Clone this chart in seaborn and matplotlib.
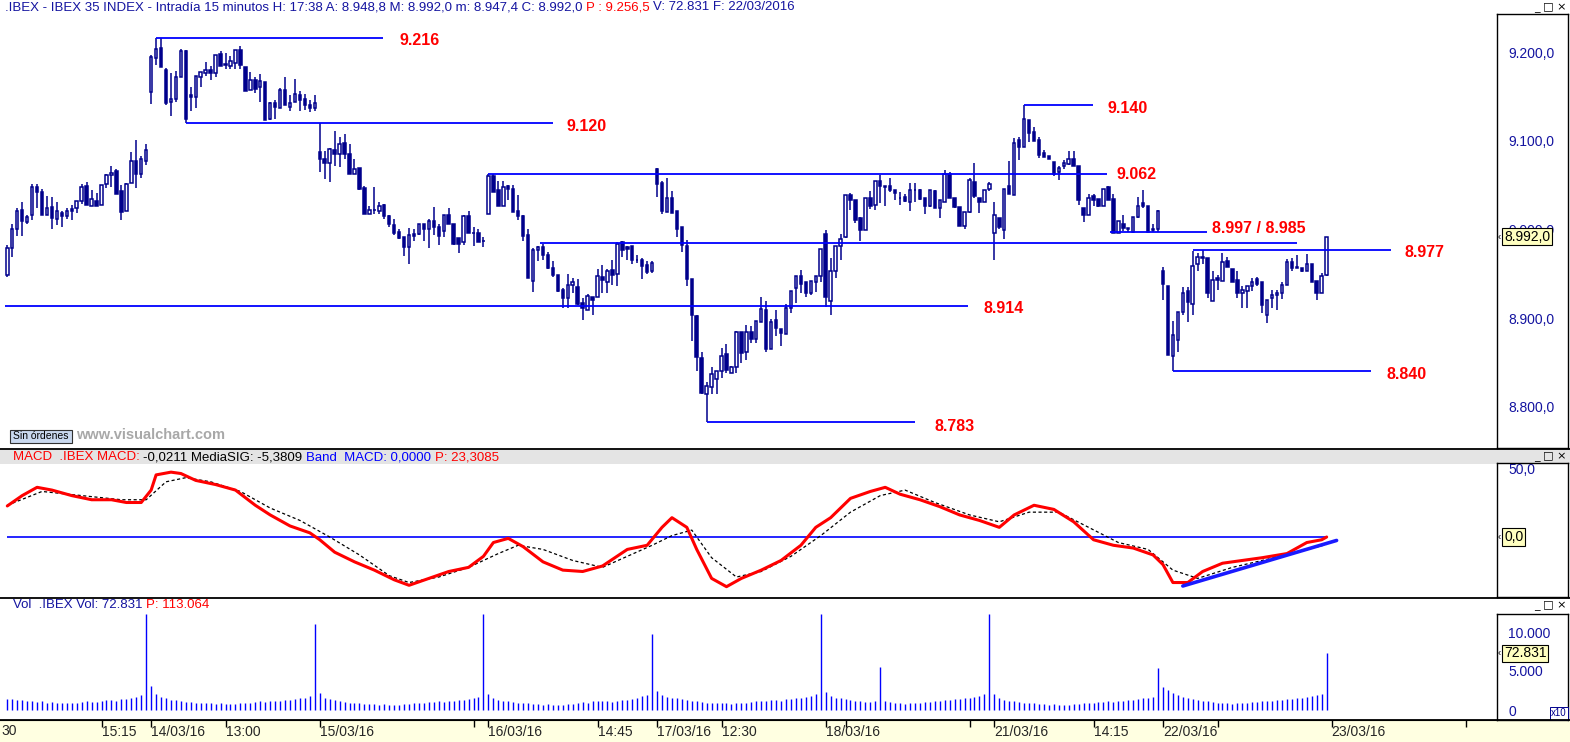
import numpy as np
import matplotlib
matplotlib.use("Agg")
import matplotlib.pyplot as plt
import matplotlib.transforms as mtrans
from matplotlib.lines import Line2D
from matplotlib.patches import Rectangle
from matplotlib.ticker import FixedLocator, FuncFormatter
import seaborn as sns

# ---------------- data (IBEX 35, 15 min bars, 11/03 -> 22/03/2016) ----------------
opens = [
    8949, 8979, 9001, 9022, 9009, 9016, 9048, 9042, 9016, 9025, 9012, 9019, 9015, 9023, 9024,
    9032, 9049, 9027, 9032, 9028, 9051, 9061, 9066, 9043, 9021, 9052, 9077, 9063, 9077,
    9155, 9193, 9205, 9180, 9144, 9147, 9172, 9201, 9152, 9149, 9172, 9176, 9180, 9176, 9198, 9185, 9184, 9188,
    9202, 9183, 9157, 9169, 9161, 9166, 9124, 9143, 9137, 9157, 9138, 9144, 9152, 9147, 9140, 9137,
    9087, 9079, 9075, 9090, 9085, 9097, 9085, 9063, 9069, 9047, 9018, 9022, 9021, 9028, 9015, 9005, 8997,
    8992, 8980, 8995, 8995, 9006, 9000, 9010, 9003, 8998, 9016, 9006, 8990, 8986, 9015, 8996, 8996, 8987,
    9017, 9060, 9044, 9026, 9049, 9046, 9021, 9015, 8994, 8942, 8977, 8980, 8971, 8957, 8949, 8932, 8923,
    8938, 8935, 8917, 8909, 8924, 8924, 8946, 8941, 8954, 8950, 8986, 8980, 8981, 8966, 8966, 8960, 8953,
    9068, 9052, 9020, 9035, 9021, 9003, 8981, 8944, 8902, 8855, 8815, 8823, 8832, 8840, 8860, 8838, 8845,
    8884, 8862, 8884, 8877, 8896, 8909, 8865, 8898, 8888, 8882, 8911, 8934, 8948, 8941, 8928, 8941, 8948,
    8995, 8919, 8953, 8981, 8992, 9039, 9033, 9013, 8999, 9036, 9028, 9055, 9049, 9049, 9045, 9036, 9037,
    9031, 9044, 9045, 9035, 9026, 9043, 9024, 9031, 9062, 9036, 9025, 9004, 9020, 9054, 9036, 9031, 9046,
    8996, 9013, 8999, 9049, 9039, 9101, 9093, 9123, 9110, 9101, 9086, 9083, 9076, 9065, 9071, 9074, 9080,
    9072, 9024, 9016, 9038, 9034, 9026, 9048, 9034, 8996, 9006, 9002, 8997, 9014, 9030, 9027, 9000, 9000,
    8953, 8936, 8858, 8876, 8907, 8931, 8916, 8961, 8969, 8968, 8919, 8945, 8942, 8965, 8956, 8943, 8929,
    8931, 8936, 8944, 8941, 8904, 8923, 8926, 8928, 8938, 8963, 8958, 8957, 8953, 8961, 8942, 8928, 8948.8,
]
highs = [
    8983, 9006, 9024, 9031, 9016, 9051, 9051, 9046, 9038, 9037, 9031, 9021, 9024, 9028, 9032,
    9051, 9054, 9045, 9041, 9050, 9063, 9071, 9068, 9050, 9052, 9087, 9101, 9083, 9096,
    9197, 9216, 9216, 9182, 9176, 9179, 9203, 9202, 9161, 9173, 9177, 9189, 9184, 9197, 9201, 9199, 9195, 9202,
    9207, 9183, 9177, 9172, 9175, 9166, 9144, 9146, 9159, 9172, 9152, 9170, 9156, 9153, 9146, 9151,
    9120, 9088, 9092, 9111, 9104, 9108, 9096, 9080, 9069, 9049, 9027, 9048, 9031, 9029, 9016, 9012, 9001,
    8992, 9002, 9001, 9006, 9006, 9012, 9025, 9006, 9016, 9024, 9006, 8990, 9016, 9021, 9003, 9001, 8992,
    9062, 9063, 9055, 9055, 9050, 9050, 9039, 9016, 9001, 8979, 8981, 8984, 8975, 8965, 8949, 8934, 8950,
    8945, 8944, 8923, 8927, 8924, 8956, 8960, 8956, 8966, 8986, 8987, 8981, 8981, 8971, 8968, 8964, 8965,
    9069, 9055, 9058, 9043, 9021, 9003, 8988, 8944, 8904, 8862, 8828, 8845, 8841, 8867, 8871, 8846, 8886,
    8884, 8892, 8891, 8897, 8924, 8919, 8899, 8909, 8888, 8916, 8931, 8948, 8954, 8941, 8942, 8948, 8978,
    8999, 8968, 8981, 8995, 9039, 9041, 9033, 9014, 9036, 9043, 9055, 9061, 9049, 9058, 9045, 9042, 9040,
    9052, 9052, 9046, 9035, 9045, 9045, 9033, 9067, 9065, 9036, 9025, 9020, 9058, 9075, 9036, 9045, 9053,
    9031, 9013, 9046, 9077, 9103, 9104, 9140, 9123, 9115, 9104, 9090, 9083, 9076, 9071, 9078, 9088, 9088,
    9072, 9024, 9040, 9040, 9034, 9046, 9049, 9040, 9010, 9016, 9002, 9014, 9037, 9045, 9027, 9006, 9022,
    8958, 8936, 8897, 8907, 8935, 8935, 8976, 8973, 8977, 8968, 8953, 8949, 8973, 8969, 8956, 8953, 8936,
    8936, 8945, 8947, 8941, 8921, 8932, 8932, 8941, 8967, 8968, 8971, 8957, 8972, 8961, 8942, 8951, 8992,
]
lows = [
    8946, 8969, 8993, 8993, 9006, 9011, 9024, 9016, 9016, 9001, 9005, 9003, 9012, 9011, 9019,
    9029, 9028, 9027, 9027, 9028, 9047, 9048, 9040, 9011, 9021, 9052, 9047, 9058, 9073,
    9141, 9185, 9183, 9140, 9128, 9144, 9172, 9120, 9134, 9137, 9161, 9173, 9169, 9172, 9184, 9181, 9181, 9181,
    9181, 9156, 9157, 9154, 9144, 9123, 9123, 9125, 9137, 9140, 9133, 9144, 9134, 9135, 9132, 9134,
    9065, 9057, 9053, 9071, 9070, 9080, 9063, 9063, 9045, 9017, 9017, 9017, 9018, 9012, 9003, 8994, 8989,
    8970, 8961, 8987, 8994, 8987, 8979, 8994, 8983, 8991, 9006, 8983, 8974, 8983, 8996, 8981, 8986, 8980,
    9017, 9042, 9026, 9026, 9033, 9020, 9011, 8987, 8945, 8930, 8965, 8966, 8956, 8947, 8930, 8912, 8912,
    8928, 8915, 8898, 8909, 8904, 8924, 8928, 8928, 8937, 8936, 8969, 8966, 8961, 8962, 8944, 8950, 8951,
    9037, 9018, 9020, 9019, 8991, 8975, 8936, 8874, 8840, 8815, 8783, 8815, 8815, 8833, 8838, 8838, 8838,
    8850, 8853, 8872, 8872, 8896, 8862, 8865, 8880, 8869, 8882, 8906, 8917, 8929, 8924, 8926, 8930, 8941,
    8913, 8904, 8945, 8966, 8990, 9022, 9007, 8987, 8999, 9023, 9022, 9030, 9027, 9042, 9033, 9028, 9031,
    9021, 9031, 9033, 9017, 9025, 9024, 9013, 9031, 9035, 9024, 9004, 9001, 9019, 9036, 9019, 9031, 9043,
    8966, 9001, 8989, 9040, 9039, 9078, 9093, 9099, 9100, 9081, 9082, 9079, 9060, 9056, 9068, 9073, 9071,
    9028, 9009, 9016, 9026, 9025, 9026, 9033, 8996, 8996, 8998, 8997, 8996, 9013, 9024, 8997, 8997, 8997,
    8921, 8859, 8840, 8862, 8904, 8896, 8904, 8953, 8961, 8923, 8919, 8932, 8942, 8958, 8941, 8923, 8912,
    8912, 8931, 8936, 8906, 8895, 8912, 8909, 8922, 8938, 8953, 8957, 8952, 8953, 8941, 8921, 8928, 8947.4,
]
closes = [
    8979, 9001, 9021, 9010, 9014, 9048, 9042, 9016, 9024, 9013, 9021, 9015, 9021, 9021, 9032,
    9048, 9028, 9034, 9027, 9050, 9061, 9064, 9040, 9020, 9051, 9077, 9062, 9079, 9090,
    9194, 9203, 9183, 9143, 9147, 9172, 9201, 9124, 9149, 9173, 9177, 9180, 9176, 9197, 9184, 9186, 9190, 9202,
    9185, 9156, 9169, 9158, 9167, 9123, 9142, 9138, 9157, 9140, 9142, 9153, 9146, 9140, 9137, 9143,
    9080, 9075, 9091, 9085, 9096, 9085, 9063, 9068, 9046, 9018, 9022, 9022, 9027, 9015, 9006, 8996, 8990,
    8980, 8994, 8993, 9006, 9000, 9010, 9003, 8993, 9016, 9006, 8984, 8984, 9015, 8996, 8996, 8986, 8987,
    9060, 9042, 9026, 9048, 9046, 9020, 9015, 8993, 8945, 8977, 8980, 8971, 8957, 8949, 8931, 8923, 8938,
    8941, 8916, 8911, 8925, 8920, 8948, 8943, 8953, 8949, 8984, 8977, 8978, 8966, 8966, 8959, 8952, 8962,
    9051, 9021, 9036, 9019, 9001, 8982, 8944, 8904, 8856, 8816, 8824, 8837, 8841, 8858, 8842, 8845, 8884,
    8861, 8884, 8877, 8897, 8910, 8865, 8896, 8889, 8883, 8911, 8931, 8948, 8939, 8928, 8942, 8948, 8978,
    8924, 8953, 8981, 8989, 9039, 9033, 9011, 8999, 9036, 9027, 9055, 9049, 9048, 9044, 9041, 9035, 9032,
    9044, 9045, 9034, 9026, 9044, 9024, 9033, 9063, 9036, 9025, 9004, 9020, 9056, 9038, 9031, 9045, 9051,
    9016, 9003, 9046, 9040, 9098, 9093, 9124, 9109, 9100, 9084, 9082, 9080, 9063, 9069, 9075, 9080, 9071,
    9033, 9016, 9035, 9033, 9026, 9046, 9033, 8996, 9010, 9002, 9000, 9014, 9027, 9026, 8997, 8999, 9021,
    8939, 8859, 8881, 8907, 8928, 8918, 8959, 8969, 8968, 8928, 8943, 8943, 8963, 8958, 8941, 8929, 8932,
    8936, 8941, 8939, 8915, 8921, 8926, 8928, 8938, 8963, 8957, 8957, 8953, 8961, 8941, 8928, 8948, 8992,
]

# volume in axis units (x10)
vol_1103 = [1400, 1350, 1300, 1250, 1150, 1200, 1050, 1100, 950, 1000, 900, 950, 900, 850, 950,
            1000, 1100, 1050, 1000, 1150, 1300, 1250, 1200, 1400, 1350, 1500, 1700, 1900, 12300]
vol_1403 = [3100, 2000, 1700, 1500, 1300, 1250, 1100, 1050, 1000, 950, 900, 850, 900, 800, 850, 800, 750,
            800, 850, 900, 950, 1000, 1100, 1050, 1150, 1200, 1100, 1250, 1300, 1400, 1500, 1600, 1800, 11000]
vol_1503 = [2200, 1600, 1400, 1300, 1100, 1000, 950, 900, 850, 800, 750, 800, 700, 750, 700, 650, 700,
            750, 800, 850, 900, 950, 1000, 1050, 1100, 1000, 1150, 1200, 1250, 1300, 1400, 1500, 1700, 12300]
vol_1603 = [2000, 1500, 1300, 1200, 1100, 1000, 900, 850, 900, 800, 750, 700, 750, 700, 650, 700, 750,
            800, 900, 1000, 950, 1100, 1200, 1150, 1100, 1050, 1200, 1300, 1250, 1400, 1600, 1800, 1900, 9700]
vol_1703 = [2400, 1900, 1700, 1600, 1500, 1400, 1300, 1200, 1100, 1000, 950, 900, 950, 900, 850, 800, 850,
            900, 950, 1000, 1100, 1150, 1200, 1250, 1300, 1200, 1350, 1400, 1500, 1600, 1700, 1800, 2000, 12300]
vol_1803 = [2300, 1800, 1600, 1500, 1400, 1300, 1200, 1100, 1050, 1000, 1100, 5500, 1200, 1000, 900, 850, 800,
            850, 900, 950, 1000, 1050, 1100, 1200, 1250, 1300, 1350, 1400, 1500, 1600, 1700, 1800, 2000, 12300]
vol_2103 = [2100, 1500, 1300, 1200, 1100, 1000, 950, 900, 850, 800, 750, 700, 750, 700, 650, 700, 750,
            800, 850, 900, 950, 1000, 1050, 1100, 1000, 1100, 1200, 1250, 1300, 1400, 1500, 1600, 1700, 5400]
vol_2203 = [3000, 2600, 2200, 1900, 1700, 1500, 1400, 1300, 1200, 1100, 1000, 950, 900, 850, 800, 850, 900,
            950, 1000, 1050, 1100, 1150, 1200, 1300, 1250, 1350, 1400, 1500, 1600, 1700, 1800, 1900, 2100, 7283.1]
volumes = vol_1103 + vol_1403 + vol_1503 + vol_1603 + vol_1703 + vol_1803 + vol_2103 + vol_2203

# MACD / signal (bar index, value)
macd_bars = [0, 3, 6, 9, 13, 17, 21, 24, 27, 29, 30, 33, 35, 38, 42, 46, 50, 53, 57, 61, 63, 66, 70, 74,
             78, 81, 85, 89, 93, 96, 98, 101, 104, 108, 112, 116, 120, 125, 129, 132, 134, 137, 139, 142,
             145, 148, 152, 156, 160, 163, 166, 170, 174, 177, 180, 184, 188, 192, 196, 200, 203, 207, 211,
             215, 219, 223, 227, 231, 233, 235, 238, 241, 245, 249, 253, 258, 262, 265, 266]
macd_vals = [22.5, 30, 36, 34, 30, 27, 27, 25, 25, 34, 45, 47, 46, 41, 38, 34, 23, 16, 8, 3, -2, -11, -18, -24,
             -31, -35, -30, -25, -22, -14, -4, -1, -7, -18, -24, -25, -21, -9, -6, 7, 14, 7, -9, -30,
             -36, -30, -24, -17, -6, 7, 14, 28, 33, 36, 31, 27, 22, 16, 12, 7, 16, 23, 20,
             11, -2, -6, -8, -13, -20, -33, -33, -25, -19, -17, -15, -12, -4, -2, 0]
sig_bars = [0, 7, 15, 23, 28, 32, 36, 41, 47, 53, 59, 65, 71, 77, 81, 87, 93, 99, 103, 108, 114, 120, 125, 130,
            134, 138, 142, 147, 152, 158, 164, 170, 176, 181, 187, 194, 200, 206, 212, 218, 224, 230, 235, 240,
            247, 253, 259, 266]
sig_vals = [23, 33, 30, 27, 27, 40, 43, 40, 33, 21, 12, 0, -13, -28, -33, -29, -22, -12, -6, -9, -17, -22, -14, -6,
            1, 5, -15, -29, -25, -14, 1, 18, 30, 34, 25, 16, 11, 18, 18, 7, -4, -9, -24, -30,
            -22, -17, -12, -5.4]
trend_bars = [237, 268]
trend_vals = [-35.5, -2.5]

# support / resistance lines drawn on the price panel
levels = [9216, 9120, 9062, 9140, 8997, 8985, 8977, 8914, 8840, 8783]
level_from = [30, 36, 97, 205, 222.3, 107.4, 239, -0.5, 235, 141]
level_to = [75.7, 110, 221.7, 218.9, 241.9, 260, 279, 193.7, 275, 183]
level_names = ["9.216", "9.120", "9.062", "9.140", "8.997 / 8.985", None, "8.977", "8.914", "8.840", "8.783"]

tick_bars = [19, 29, 44, 63, 94, 97, 119, 131, 144, 165, 169, 194, 199, 219, 233, 244, 267, 294]
tick_labels = ["15:15", "14/03/16", "13:00", "15/03/16", "", "16/03/16", "14:45", "17/03/16", "12:30",
               "18/03/16", "", "", "21/03/16", "14:15", "22/03/16", "", "23/03/16", ""]

assert len(opens) == len(highs) == len(lows) == len(closes) == len(volumes) == 267

# ---------------- figure ----------------
sns.set_style("white")
plt.rcParams["font.family"] = ["Liberation Sans", "DejaVu Sans"]

W, H = 1570, 742
fig = plt.figure(figsize=(W / 100, H / 100), dpi=100)
fig.patch.set_facecolor("white")


def panel(x0, y0, x1, y1, **kw):
    return fig.add_axes([x0 / W, 1 - y1 / H, (x1 - x0) / W, (y1 - y0) / H], **kw)


def fy(y):
    return 1 - y / H


NAVY = "#00008C"
BLUE = "#0000FF"
TBLUE = "#1414A0"
RED = "#FF0000"
YEL = "#FFFFE1"

X0, DX = 7.3, 4.96
XL = (-X0 / DX, (1497 - X0) / DX)
P_TOP, P_PX = 9258.6, 1.1268  # price at pixel row 0, points per pixel
M_ZERO, M_PX = 537, 1.38      # macd zero row, pixels per unit
V_ZERO, V_PX = 710, 0.0078    # volume zero row, pixels per unit


def es(v, dec):
    s = f"{v:,.{dec}f}"
    return s.replace(",", "X").replace(".", ",").replace("X", ".")


# ---- price panel ----
ax = panel(0, 0, 1497, 448)
ax.set_xlim(*XL)
ax.set_ylim(P_TOP - P_PX * 448, P_TOP)
ax.axis("off")

idx = np.arange(len(closes))
o, h, l, c = map(np.asarray, (opens, highs, lows, closes))
up = c >= o
ax.vlines(idx, l, h, color=NAVY, lw=1.1, zorder=2)
ax.bar(idx[up], c[up] - o[up], bottom=o[up], width=0.5, facecolor="white",
       edgecolor=NAVY, linewidth=1.1, zorder=3)
ax.bar(idx[~up], o[~up] - c[~up], bottom=c[~up], width=0.5, facecolor=NAVY,
       edgecolor=NAVY, linewidth=1.1, zorder=3)

ax.hlines(levels, level_from, level_to, color=BLUE, lw=1.3, zorder=4)
gap_px = [17, 14, 10, 14, 5, 0, 13, 15, 15, 20]
dy_px = [3, 3, 0, 3, -4, 0, 3, 3, 3, 4]
for lv, x1, name, g, d in zip(levels, level_to, level_names, gap_px, dy_px):
    if name is None:
        continue
    ax.annotate(name, xy=(x1, lv), xytext=(g * 0.72, -d * 0.72), textcoords="offset points",
                ha="left", va="center", color=RED, fontsize=11.5, fontweight="bold", zorder=5)

# ---- MACD panel ----
axm = panel(0, 449, 1497, 597)
axm.set_xlim(*XL)
axm.set_ylim((M_ZERO - 597) / M_PX, (M_ZERO - 449) / M_PX)
axm.axis("off")
axm.hlines(0, 0, len(closes) - 1, color=BLUE, lw=1.2, zorder=1)
sns.lineplot(x=sig_bars, y=sig_vals, ax=axm, color="black", linewidth=0.9, linestyle=(0, (2.5, 2)), zorder=2)
sns.lineplot(x=macd_bars, y=macd_vals, ax=axm, color=RED, linewidth=2.2, zorder=3)
axm.plot(trend_bars, trend_vals, color="#1a1aff", lw=2.6, zorder=4)

# ---- volume panel ----
axv = panel(0, 598, 1497, 720)
axv.set_xlim(*XL)
axv.set_ylim(-(720 - V_ZERO) / V_PX, (V_ZERO - 598) / V_PX)
axv.axis("off")
axv.vlines(idx, 0, volumes, color=BLUE, lw=1.0)

# ---- bottom time strip ----
axx = panel(0, 720, 1497, 742)
axx.set_facecolor(YEL)
axx.set_xlim(*XL)
axx.set_ylim(0, 1)
axx.set_yticks([])
for side in ("left", "right", "bottom"):
    axx.spines[side].set_visible(False)
axx.spines["top"].set_color("black")
axx.set_xticks(tick_bars)
axx.set_xticklabels(tick_labels)
axx.tick_params(axis="x", top=True, bottom=False, labeltop=False, labelbottom=True,
                direction="in", length=5, width=1, color="black", pad=-12.5, labelsize=10)
for tk in axx.xaxis.get_major_ticks():
    tk.label1.set_horizontalalignment("left")
axx.text(1.0 / 1497, 0.80, "30", transform=axx.transAxes, va="top", ha="left", fontsize=10)
fig.add_artist(Rectangle((1497 / W, 0), 73 / W, 22 / H, transform=fig.transFigure,
                         facecolor=YEL, edgecolor="none", zorder=0))

# ---- right scale boxes ----
def side_box(y0, y1, lim, ticks, fmt):
    b = panel(1497, y0, 1568, y1)
    b.set_facecolor("white")
    b.set_xlim(0, 1)
    b.set_ylim(*lim)
    b.set_xticks([])
    b.yaxis.set_major_locator(FixedLocator(ticks))
    b.yaxis.set_major_formatter(FuncFormatter(fmt))
    b.tick_params(axis="y", direction="in", length=5, width=1, pad=-8, color=NAVY,
                  labelcolor=TBLUE, labelsize=10)
    for tk in b.yaxis.get_major_ticks():
        tk.label1.set_horizontalalignment("left")
        tk.label1.set_clip_box(b.bbox)
        tk.label1.set_clip_on(True)
    for s in b.spines.values():
        s.set_color("black")
        s.set_linewidth(1)
    return b


def marker(b, val, text):
    tr = mtrans.blended_transform_factory(b.transAxes, b.transData)
    b.text(0.10, val, text, transform=tr, ha="left", va="center", fontsize=10, color="black", zorder=10,
           bbox=dict(boxstyle="square,pad=0.12", facecolor="#FFFFC0", edgecolor="black", linewidth=0.8))
    b.text(0.01, val, "‹", transform=tr, ha="left", va="center", fontsize=7, color="black", zorder=10)


bp = side_box(14, 448, (P_TOP - P_PX * 448, P_TOP - P_PX * 14), [8800, 8900, 9000, 9100, 9200],
              lambda v, p: es(v, 1))
marker(bp, closes[-1], es(closes[-1], 1))

# the 0,0 tick label sits exactly under the current-value marker
bm = side_box(463, 597, ((M_ZERO - 597) / M_PX, (M_ZERO - 463) / M_PX), [0, 50],
              lambda v, p: es(v, 1) if v else "")
marker(bm, macd_vals[-1], es(macd_vals[-1], 1))

bv = side_box(614, 720, (-(720 - V_ZERO) / V_PX, (V_ZERO - 614) / V_PX), [0, 5000, 10000],
              lambda v, p: es(v, 0))
marker(bv, volumes[-1], es(volumes[-1] * 10, 0))
bv.text(0.985, 0.015, "x10", transform=bv.transAxes, ha="right", va="bottom", fontsize=7, color=NAVY,
        bbox=dict(boxstyle="square,pad=0.15", facecolor="white", edgecolor=NAVY, linewidth=0.7))

# ---- separators, bands, buttons ----
fig.add_artist(Rectangle((0, fy(464)), 1, 15 / H, transform=fig.transFigure,
                         facecolor="#E4E4E4", edgecolor="none", zorder=0))
for yy in (448.5, 597.5, 720):
    fig.add_artist(Line2D([0, 1], [fy(yy), fy(yy)], transform=fig.transFigure, color="black", lw=1.3))
for yy in (7, 456, 605):
    fig.text(1534 / W, fy(yy), "_ □ ×", fontsize=8, va="center", ha="left", color="black",
             family=["DejaVu Sans"])


def chain(x, y, parts, size=9.5):
    t = fig.text(x / W, fy(y), parts[0][0], color=parts[0][1], fontsize=size, va="center", ha="left")
    for s, col in parts[1:]:
        t = ax.annotate(s, xy=(1, 0.5), xycoords=t, va="center", ha="left", color=col,
                        fontsize=size, annotation_clip=False)


chain(5, 7, [(".IBEX - IBEX 35 INDEX - Intradía 15 minutos H: 17:38 A: " + es(opens[-1], 1)
              + " M: " + es(highs[-1], 1) + " m: " + es(lows[-1], 1) + " C: " + es(closes[-1], 1) + " ", TBLUE),
             ("P : 9.256,5 ", RED),
             ("V: " + es(volumes[-1] * 10, 0) + " F: 22/03/2016", TBLUE)])
chain(13, 457, [("MACD  .IBEX MACD: ", RED),
                ("-0,0211 MediaSIG: -5,3809 ", "black"),
                ("Band  MACD: 0,0000 ", BLUE),
                ("P: 23,3085", RED)])
chain(13, 605, [("Vol  .IBEX Vol: " + es(volumes[-1] * 10, 0) + " ", TBLUE),
                ("P: 113.064", RED)])

# order-entry button and watermark
fig.add_artist(Rectangle((10 / W, fy(443)), 62 / W, 13 / H, transform=fig.transFigure,
                         facecolor="#C9D8EE", edgecolor="#303030", linewidth=0.8))
fig.text(41 / W, fy(436.5), "Sin órdenes", fontsize=7.5, ha="center", va="center", color="black")
fig.text(76 / W, fy(435), "www.visualchart.com", fontsize=10.5, fontweight="bold", ha="left",
         va="center", color="#A8A8A8")

fig.savefig("out.png", dpi=100, facecolor="white")
